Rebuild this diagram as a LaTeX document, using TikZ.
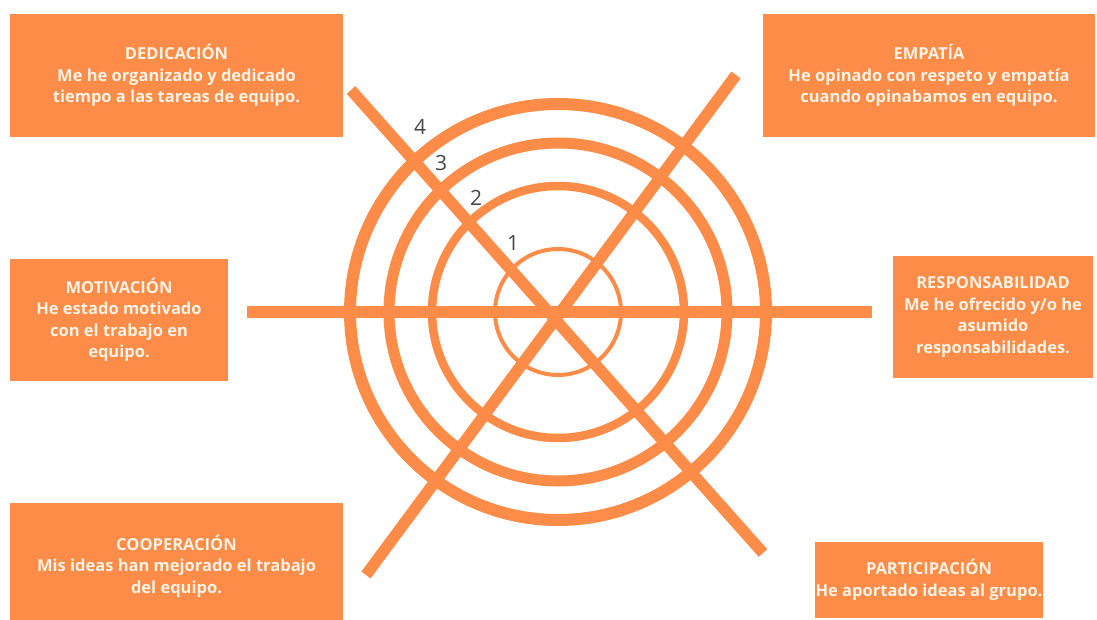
\documentclass[tikz,border=0pt]{standalone}
\usepackage{fontspec}
\setmainfont{Open Sans}
\definecolor{orng}{RGB}{252,140,72}
\definecolor{cream}{RGB}{255,243,230}
\definecolor{numgray}{RGB}{70,70,70}
\tikzset{
  card/.style={fill=orng, draw=none, inner sep=0pt, align=center, text=cream,
    font=\bfseries\fontsize{16.5}{21.5}\selectfont},
  ring/.style={draw=orng},
  spoke/.style={draw=orng, line width=11.5pt},
  num/.style={text=numgray, font=\fontsize{21}{21}\selectfont, inner sep=0pt}
}
\begin{document}
\begin{tikzpicture}[x=1pt,y=-1pt]
\useasboundingbox (0,0) rectangle (1097,620);
\clip (0,0) rectangle (1097,620);
\fill[white] (0,0) rectangle (1097,620);
% boxes
\node[card, minimum width=333pt, minimum height=123pt] (ded) at (176.5,75.5)
  {DEDICACIÓN\\Me he organizado y dedicado\\tiempo a las tareas de equipo.};
\node[card, minimum width=332pt, minimum height=123pt] (emp) at (929,75.5)
  {EMPATÍA\\He opinado con respeto y empatía\\cuando opinabamos en equipo.};
\node[card, minimum width=218pt, minimum height=122pt] (mot) at (119,320)
  {MOTIVACIÓN\\He estado motivado\\con el trabajo en\\equipo.};
\node[card, minimum width=200pt, minimum height=122pt] (res) at (993,317)
  {RESPONSABILIDAD\\Me he ofrecido y/o he\\asumido\\responsabilidades.};
\node[card, minimum width=333pt, minimum height=126pt] (coo) at (176.5,566)
  {COOPERACIÓN\\Mis ideas han mejorado el trabajo\\del equipo.};
\node[card, minimum width=228pt, minimum height=76pt] (par) at (929,580)
  {PARTICIPACIÓN\\He aportado ideas al grupo.};
% target
\coordinate (c) at (558,312);
\draw[ring, line width=12pt] (c) circle (208);
\draw[ring, line width=11pt] (c) circle (169);
\draw[ring, line width=8.5pt] (c) circle (126);
\draw[ring, line width=4pt] (c) circle (63);
\coordinate (h1) at (247,312);
\coordinate (h2) at (872,312);
\coordinate (d1) at (351,90);
\coordinate (d2) at (763,553);
\coordinate (e1) at (736,75);
\coordinate (e2) at (366,575);
\draw[spoke] (h1) -- (h2);
\draw[spoke] (d1) -- (d2);
\draw[spoke] (e1) -- (e2);
% level numbers
\node[num] (n4) at (420,127) {4};
\node[num] (n3) at (441,163) {3};
\node[num] (n2) at (476,198) {2};
\node[num] (n1) at (513,243) {1};
\end{tikzpicture}
\end{document}
